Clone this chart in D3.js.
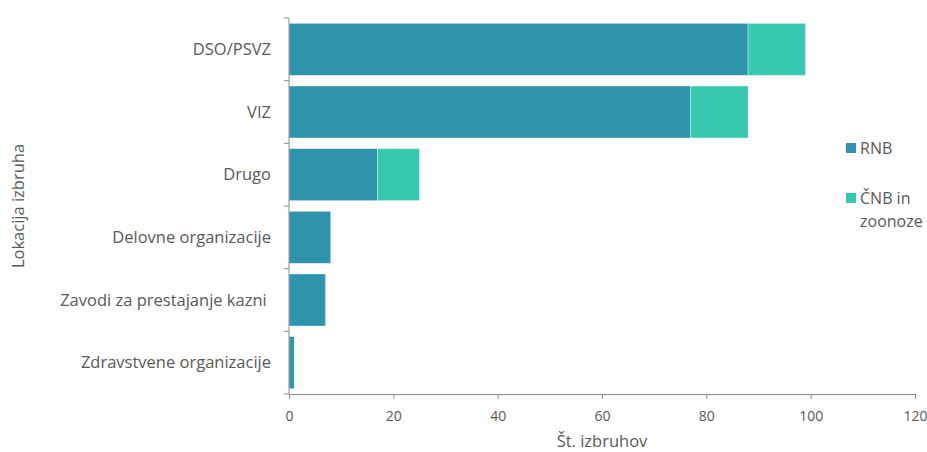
<!DOCTYPE html>
<html>
<head>
<meta charset="utf-8">
<script src="https://cdn.jsdelivr.net/npm/d3@7"></script>
<style>
  body { margin: 0; background: #fff; }
  text { font-family: "Open Sans", sans-serif; fill: #595959; }
</style>
</head>
<body>
<div id="chart"></div>
<script>
// data
const categories = ["DSO/PSVZ", "VIZ", "Drugo", "Delovne organizacije", "Zavodi za prestajanje kazni ", "Zdravstvene organizacije"];
const rnb = [88, 77, 17, 8, 7, 1];
const cnb = [11, 11, 8, 0, 0, 0];
const seriesNames = ["RNB", "ČNB in zoonoze"];
const seriesColors = ["#2E93AC", "#37C8B0"];
const xTicks = [0, 20, 40, 60, 80, 100, 120];

const width = 927, height = 452;
const margin = { top: 18, right: 12, bottom: 58, left: 289 };

const svg = d3.select("#chart").append("svg")
  .attr("width", width)
  .attr("height", height);

const x = d3.scaleLinear().domain([0, 120]).range([margin.left, 915]);
const y = d3.scaleBand().domain(categories).range([margin.top, height - margin.bottom]).paddingInner(0.17).paddingOuter(0.085);

const rows = categories.map((c, i) => ({ cat: c, RNB: rnb[i], CNB: cnb[i] }));
const stack = d3.stack().keys(["RNB", "CNB"])(rows);

svg.append("g")
  .selectAll("g")
  .data(stack)
  .join("g")
  .attr("fill", (d, i) => seriesColors[i])
  .selectAll("rect")
  .data(d => d.filter(v => v[1] > v[0]))
  .join("rect")
  .attr("x", d => x(d[0]))
  .attr("y", d => y(d.data.cat))
  .attr("width", d => x(d[1]) - x(d[0]))
  .attr("height", y.bandwidth())
  .attr("stroke", "#fff")
  .attr("stroke-opacity", 0.6)
  .attr("stroke-width", 0.6);

// y axis: line plus ticks between categories
const yTop = margin.top, yBot = height - margin.bottom;
const yAxis = svg.append("g");
yAxis.append("line")
  .attr("x1", margin.left).attr("x2", margin.left)
  .attr("y1", yTop).attr("y2", yBot)
  .attr("stroke", "#8c8c8c");
const step = (yBot - yTop) / categories.length;
yAxis.selectAll(".yt")
  .data(d3.range(categories.length + 1))
  .join("line")
  .attr("x1", margin.left - 5).attr("x2", margin.left)
  .attr("y1", i => yTop + i * step).attr("y2", i => yTop + i * step)
  .attr("stroke", "#8c8c8c");
yAxis.selectAll(".yl")
  .data(categories)
  .join("text")
  .attr("x", 271)
  .attr("y", d => y(d) + y.bandwidth() / 2)
  .attr("dy", "0.35em")
  .attr("text-anchor", "end")
  .attr("xml:space", "preserve")
  .style("white-space", "pre")
  .style("font-size", "16.5px")
  .text(d => d);

// x axis
const xAxis = svg.append("g").attr("transform", `translate(0,${yBot})`)
  .call(d3.axisBottom(x).tickValues(xTicks).tickSize(5).tickPadding(12));
xAxis.select(".domain").attr("stroke", "#8c8c8c");
xAxis.selectAll(".tick line").attr("stroke", "#8c8c8c");
xAxis.selectAll(".tick text").style("font-size", "14px").style("font-family", "'Open Sans', sans-serif").attr("fill", "#595959");

svg.append("text")
  .attr("x", x(60))
  .attr("y", 447)
  .attr("text-anchor", "middle")
  .style("font-size", "16.5px")
  .text("Št. izbruhov");

svg.append("text")
  .attr("transform", `translate(24,${(yTop + yBot) / 2}) rotate(-90)`)
  .attr("text-anchor", "middle")
  .style("font-size", "16.5px")
  .text("Lokacija izbruha");

// legend
const legend = svg.append("g");
const legendY = [148, 198];
seriesNames.forEach((name, i) => {
  legend.append("rect")
    .attr("x", 846).attr("y", legendY[i] - 5)
    .attr("width", 10).attr("height", 10)
    .attr("fill", seriesColors[i]);
  const t = legend.append("text")
    .attr("x", 860).attr("y", legendY[i])
    .style("font-size", "16px");
  const words = name === "ČNB in zoonoze" ? ["ČNB in", "zoonoze"] : [name];
  words.forEach((w, j) => {
    t.append("tspan").attr("x", 860).attr("dy", j === 0 ? "0.35em" : "23px").text(w);
  });
});
</script>
</body>
</html>
